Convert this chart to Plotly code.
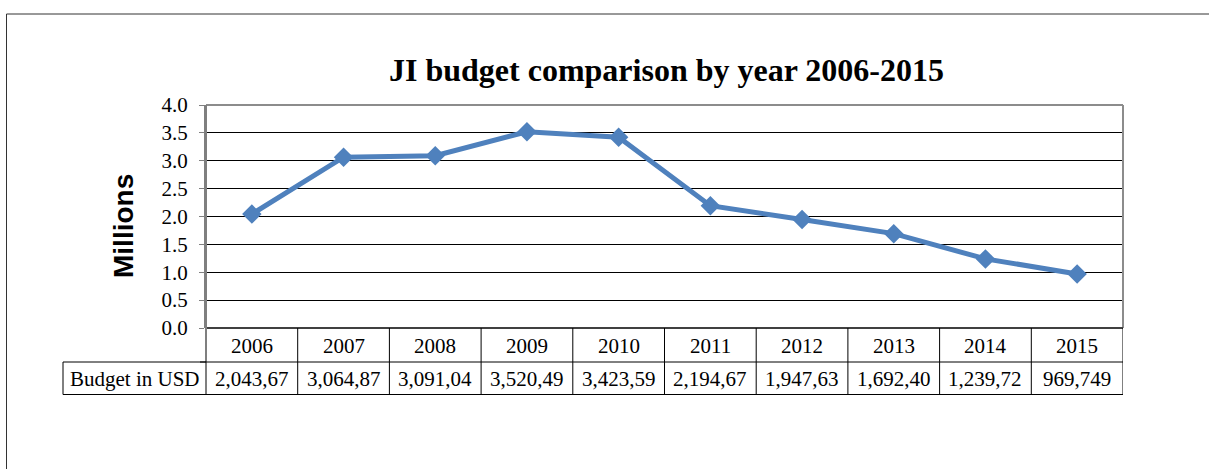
import plotly.graph_objects as go

years = ["2006", "2007", "2008", "2009", "2010", "2011", "2012", "2013", "2014", "2015"]
budget_usd = [2043670, 3064870, 3091040, 3520490, 3423590, 2194670, 1947630, 1692400, 1239720, 969749]
row_label = "Budget in USD"
y_ticks = [0.0, 0.5, 1.0, 1.5, 2.0, 2.5, 3.0, 3.5, 4.0]

millions = [v / 1e6 for v in budget_usd]
cell_text = [f"{v:,}"[:8] for v in budget_usd]

W, H = 1209, 469
L, R, T, B = 206, 1123, 105, 328


def px(xp):
    return (xp - L) / (R - L)


def py(yp):
    return (B - yp) / (B - T)


SERIF = "Liberation Serif"
SANS = "Liberation Sans"

fig = go.Figure()
fig.add_trace(go.Scatter(
    x=years, y=millions, mode="lines+markers",
    line=dict(color="#4F81BD", width=5),
    marker=dict(symbol="diamond", size=15, color="#4F81BD"),
    showlegend=False, cliponaxis=False,
))

shapes = []
# outer frame
shapes.append(dict(type="line", xref="paper", yref="paper", x0=px(6.5), x1=px(1210), y0=py(14), y1=py(14),
                   line=dict(color="#333333", width=1)))
shapes.append(dict(type="line", xref="paper", yref="paper", x0=px(6.5), x1=px(6.5), y0=py(14), y1=py(470),
                   line=dict(color="#333333", width=1)))
# plot area border (top/right gray)
shapes.append(dict(type="line", xref="paper", yref="paper", x0=0, x1=1, y0=1, y1=1,
                   line=dict(color="#8c8c8c", width=2)))
shapes.append(dict(type="line", xref="paper", yref="paper", x0=1, x1=1, y0=0, y1=1,
                   line=dict(color="#8c8c8c", width=2)))
# x axis line
shapes.append(dict(type="line", xref="paper", yref="paper", x0=0, x1=1, y0=0, y1=0,
                   line=dict(color="#404040", width=2)))
# y axis extension through table
shapes.append(dict(type="line", xref="paper", yref="paper", x0=0, x1=0, y0=py(394.5), y1=1,
                   line=dict(color="#7f7f7f", width=2)))
# table horizontal lines
for yy in (362, 394.5):
    shapes.append(dict(type="line", xref="paper", yref="paper", x0=px(63), x1=1, y0=py(yy), y1=py(yy),
                       line=dict(color="#000000", width=1)))
shapes.append(dict(type="line", xref="paper", yref="paper", x0=px(63), x1=px(63), y0=py(394.5), y1=py(362),
                   line=dict(color="#000000", width=1)))
# table vertical separators
for i in range(len(years)):
    shapes.append(dict(type="line", xref="x", yref="paper", x0=i + 0.5, x1=i + 0.5, y0=py(394.5), y1=0,
                       line=dict(color="#000000", width=1)))
# left tick at table row
shapes.append(dict(type="line", xref="paper", yref="paper", x0=px(200), x1=0, y0=py(362), y1=py(362),
                   line=dict(color="#000000", width=1)))

annotations = []
for i, (yr, txt) in enumerate(zip(years, cell_text)):
    annotations.append(dict(x=i, y=py(345.5), xref="x", yref="paper", text=yr, showarrow=False,
                            font=dict(family=SERIF, size=21, color="#000000"), xanchor="center", yanchor="middle"))
    annotations.append(dict(x=i, y=py(378.5), xref="x", yref="paper", text=txt, showarrow=False,
                            font=dict(family=SERIF, size=21, color="#000000"), xanchor="center", yanchor="middle"))
annotations.append(dict(x=px(134.5), y=py(378.5), xref="paper", yref="paper", text=row_label, showarrow=False,
                        font=dict(family=SERIF, size=21, color="#000000"), xanchor="center", yanchor="middle"))
annotations.append(dict(x=px(123), y=py(226), xref="paper", yref="paper", text="<b>Millions</b>", showarrow=False,
                        textangle=-90, font=dict(family=SANS, size=28, color="#000000"),
                        xanchor="center", yanchor="middle"))
annotations.append(dict(x=px(666), y=py(70), xref="paper", yref="paper",
                        text="<b>JI budget comparison by year 2006-2015</b>", showarrow=False,
                        font=dict(family=SERIF, size=32, color="#000000"), xanchor="center", yanchor="middle"))

fig.update_layout(
    width=W, height=H,
    margin=dict(l=L, r=W - R, t=T, b=H - B, pad=0),
    paper_bgcolor="white", plot_bgcolor="white",
    shapes=shapes, annotations=annotations,
    xaxis=dict(type="category", range=[-0.5, 9.5], showticklabels=False, showgrid=False,
               showline=False, zeroline=False, ticks=""),
    yaxis=dict(range=[0, 4], tickvals=y_ticks, tickformat=".1f", showgrid=True, gridcolor="#000000",
               gridwidth=1, zeroline=False, showline=True, linecolor="#7f7f7f", linewidth=2,
               ticks="outside", ticklen=5, tickcolor="#7f7f7f", tickwidth=1, ticklabelstandoff=7,
               tickfont=dict(family=SERIF, size=21, color="#000000")),
)

fig.write_html("out.html")
